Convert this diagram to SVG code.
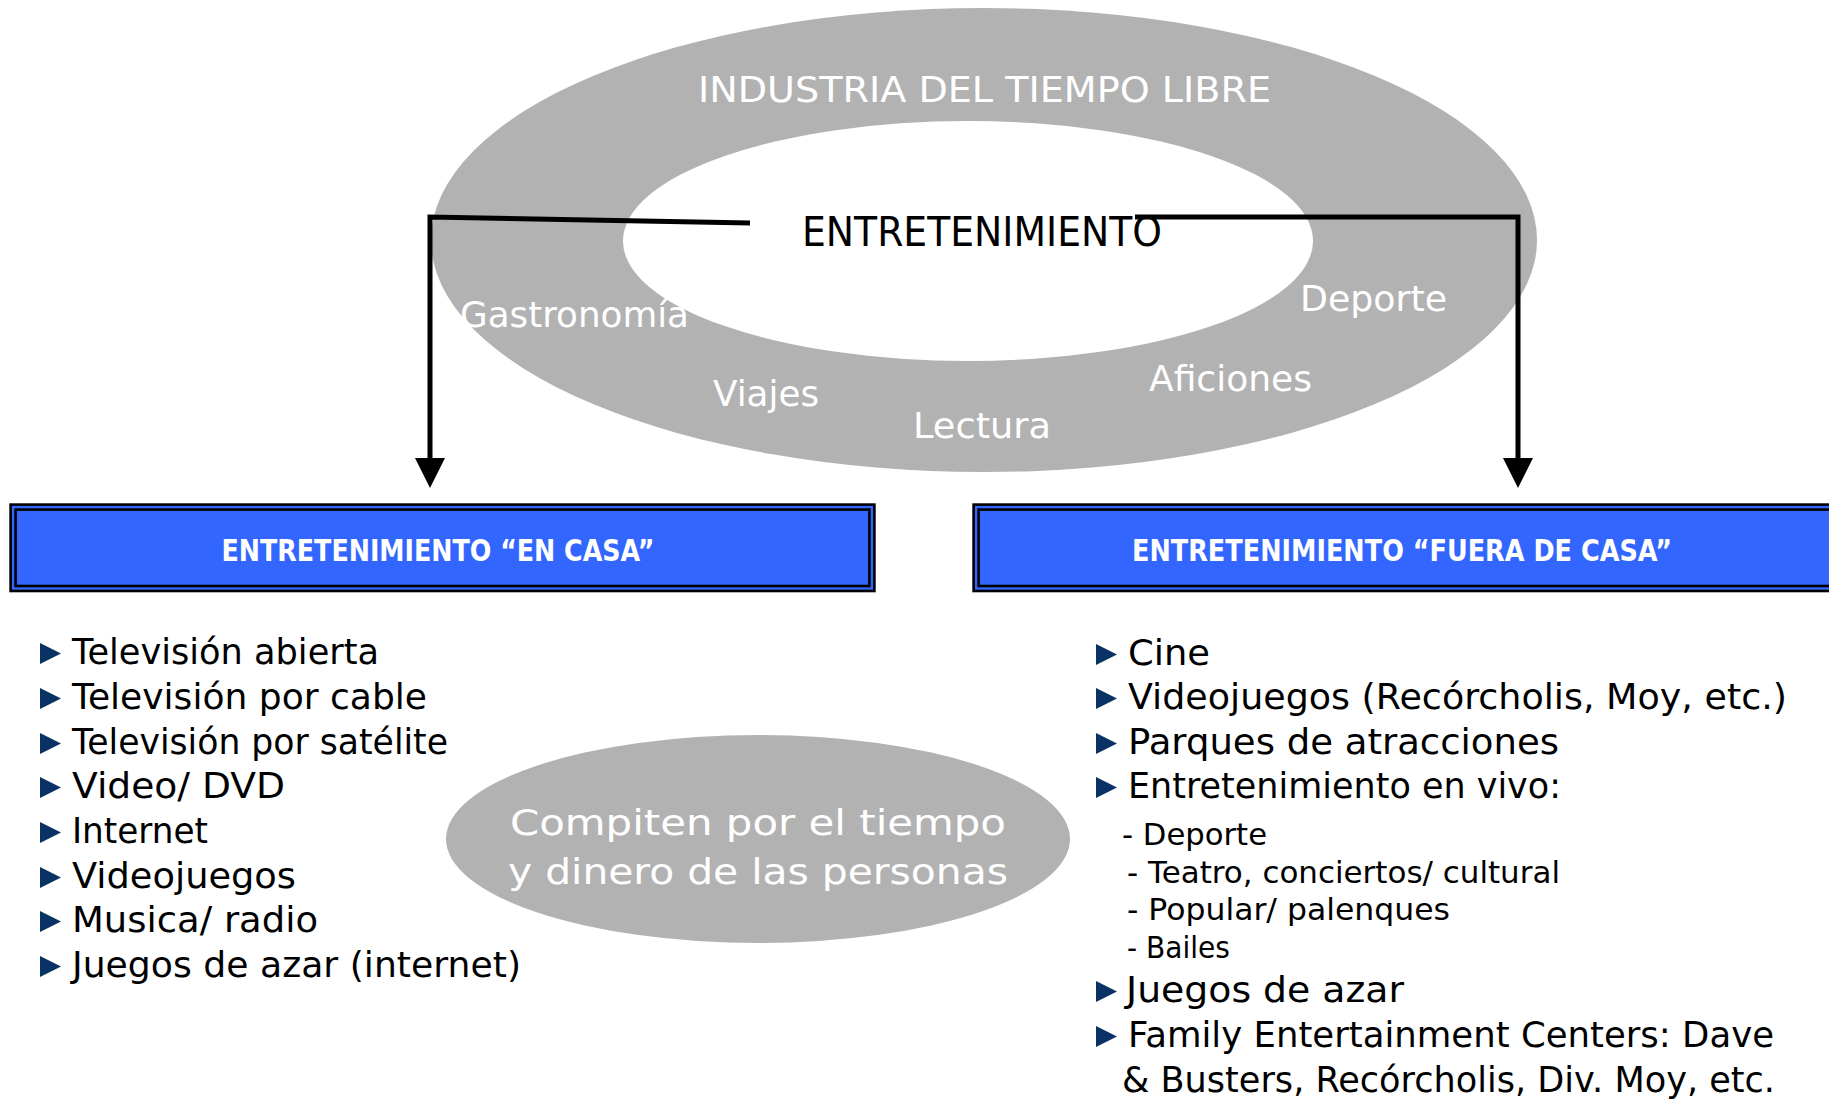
<svg xmlns="http://www.w3.org/2000/svg" width="1829" height="1101" viewBox="0 0 1829 1101">
<style>
  text { font-family: "DejaVu Sans", "Liberation Sans", sans-serif; }
  .ring { fill: #B2B2B2; }
  .wlabel { fill: #FFFFFF; font-size: 36px; }
  .item { fill: #000000; font-size: 35px; }
  .sub { fill: #000000; font-size: 30px; }
  .head { fill: #FFFFFF; font-size: 30px; font-weight: bold; }
  .boxo { fill: #3366FF; stroke: #000000; stroke-width: 2.6; }
  .boxi { fill: none; stroke: #000000; stroke-width: 2.6; }
  .bullet { fill: #0B3265; }
  .conn { fill: none; stroke: #000000; stroke-width: 5; stroke-linejoin: miter; }
</style>
<defs>
  <marker id="arrow" viewBox="0 0 30 30" refX="0" refY="15" markerWidth="30" markerHeight="30" markerUnits="userSpaceOnUse" orient="auto">
    <path d="M0,0 L30,15 L0,30 z" fill="#000000"/>
  </marker>
  <path id="tri" d="M0,-21 L21,-10.5 L0,0 z"/>
</defs>

<g id="industria">
  <ellipse class="ring" cx="984" cy="240" rx="553" ry="232"/>
  <text class="wlabel" x="698" y="102" font-size="41" textLength="573" lengthAdjust="spacingAndGlyphs">INDUSTRIA DEL TIEMPO LIBRE</text>
  <text class="wlabel" x="460" y="327" textLength="229" lengthAdjust="spacingAndGlyphs">Gastronomía</text>
  <text class="wlabel" x="1300" y="311" textLength="147" lengthAdjust="spacingAndGlyphs">Deporte</text>
  <text class="wlabel" x="1149" y="391" textLength="163" lengthAdjust="spacingAndGlyphs">Aficiones</text>
  <text class="wlabel" x="713" y="406" textLength="106" lengthAdjust="spacingAndGlyphs">Viajes</text>
  <text class="wlabel" x="913" y="438" textLength="138" lengthAdjust="spacingAndGlyphs">Lectura</text>
</g>

<g id="entretenimiento">
  <ellipse cx="968" cy="241" rx="345" ry="120" fill="#FFFFFF"/>
  <text x="802" y="246" font-size="40" fill="#000000" textLength="360" lengthAdjust="spacingAndGlyphs">ENTRETENIMIENTO</text>
</g>

<g id="connectors">
  <polyline class="conn" points="750,223 430,217 430,458" marker-end="url(#arrow)"/>
  <polyline class="conn" points="1135,217 1518,217 1518,458" marker-end="url(#arrow)"/>
</g>

<g id="en-casa">
  <rect class="boxo" x="10.6" y="504.6" width="863.8" height="86.4"/>
  <rect class="boxi" x="15.6" y="509.6" width="853.8" height="76.4"/>
  <text class="head" x="438" y="561" text-anchor="middle" textLength="433" lengthAdjust="spacingAndGlyphs">ENTRETENIMIENTO “EN CASA”</text>
</g>

<g id="fuera-de-casa">
  <rect class="boxo" x="973.6" y="504.6" width="880" height="86.4"/>
  <rect class="boxi" x="978.6" y="509.6" width="870" height="76.4"/>
  <text class="head" x="1402" y="561" text-anchor="middle" textLength="540" lengthAdjust="spacingAndGlyphs">ENTRETENIMIENTO “FUERA DE CASA”</text>
</g>

<g id="lista-en-casa">
  <use href="#tri" class="bullet" x="40" y="664"/>
  <text class="item" x="72" y="664" textLength="307" lengthAdjust="spacingAndGlyphs">Televisión abierta</text>
  <use href="#tri" class="bullet" x="40" y="709"/>
  <text class="item" x="72" y="709" textLength="355" lengthAdjust="spacingAndGlyphs">Televisión por cable</text>
  <use href="#tri" class="bullet" x="40" y="754"/>
  <text class="item" x="72" y="754" textLength="376" lengthAdjust="spacingAndGlyphs">Televisión por satélite</text>
  <use href="#tri" class="bullet" x="40" y="798"/>
  <text class="item" x="72" y="798" textLength="213" lengthAdjust="spacingAndGlyphs">Video/ DVD</text>
  <use href="#tri" class="bullet" x="40" y="843"/>
  <text class="item" x="72" y="843" textLength="136" lengthAdjust="spacingAndGlyphs">Internet</text>
  <use href="#tri" class="bullet" x="40" y="888"/>
  <text class="item" x="72" y="888" textLength="224" lengthAdjust="spacingAndGlyphs">Videojuegos</text>
  <use href="#tri" class="bullet" x="40" y="932"/>
  <text class="item" x="72" y="932" textLength="246" lengthAdjust="spacingAndGlyphs">Musica/ radio</text>
  <use href="#tri" class="bullet" x="40" y="977"/>
  <text class="item" x="72" y="977" textLength="449" lengthAdjust="spacingAndGlyphs">Juegos de azar (internet)</text>
</g>

<g id="compiten">
  <ellipse class="ring" cx="758" cy="839" rx="312" ry="104"/>
  <text class="wlabel" x="510" y="835" font-size="40" textLength="496" lengthAdjust="spacingAndGlyphs">Compiten por el tiempo</text>
  <text class="wlabel" x="508" y="884" font-size="40" textLength="500" lengthAdjust="spacingAndGlyphs">y dinero de las personas</text>
</g>

<g id="lista-fuera-de-casa">
  <use href="#tri" class="bullet" x="1096" y="665"/>
  <text class="item" x="1128" y="665" textLength="82" lengthAdjust="spacingAndGlyphs">Cine</text>
  <use href="#tri" class="bullet" x="1096" y="709"/>
  <text class="item" x="1128" y="709" textLength="659" lengthAdjust="spacingAndGlyphs">Videojuegos (Recórcholis, Moy, etc.)</text>
  <use href="#tri" class="bullet" x="1096" y="754"/>
  <text class="item" x="1128" y="754" textLength="431" lengthAdjust="spacingAndGlyphs">Parques de atracciones</text>
  <use href="#tri" class="bullet" x="1096" y="798"/>
  <text class="item" x="1128" y="798" textLength="433" lengthAdjust="spacingAndGlyphs">Entretenimiento en vivo:</text>
  <text class="sub" x="1122" y="845" textLength="145" lengthAdjust="spacingAndGlyphs">- Deporte</text>
  <text class="sub" x="1127" y="883" textLength="433" lengthAdjust="spacingAndGlyphs">- Teatro, conciertos/ cultural</text>
  <text class="sub" x="1127" y="920" textLength="323" lengthAdjust="spacingAndGlyphs">- Popular/ palenques</text>
  <text class="sub" x="1127" y="958" textLength="103" lengthAdjust="spacingAndGlyphs">- Bailes</text>
  <use href="#tri" class="bullet" x="1096" y="1002"/>
  <text class="item" x="1126" y="1002" textLength="278" lengthAdjust="spacingAndGlyphs">Juegos de azar</text>
  <use href="#tri" class="bullet" x="1096" y="1047"/>
  <text class="item" x="1128" y="1047" textLength="646" lengthAdjust="spacingAndGlyphs">Family Entertainment Centers: Dave</text>
  <text class="item" x="1122" y="1092" textLength="653" lengthAdjust="spacingAndGlyphs">&amp; Busters, Recórcholis, Div. Moy, etc.</text>
</g>
</svg>
